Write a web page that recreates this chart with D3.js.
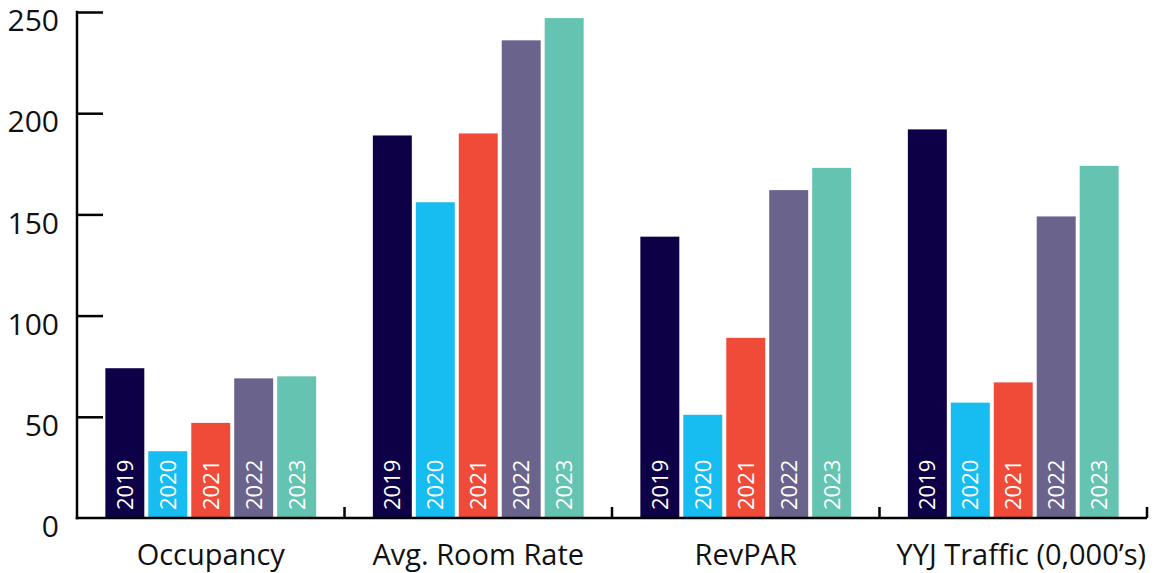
<!DOCTYPE html>
<html>
<head>
<meta charset="utf-8">
<script src="https://cdn.jsdelivr.net/npm/d3@7"></script>
<style>
  body { margin: 0; background: #fff; }
  svg text { font-family: "Open Sans", "Noto Sans", sans-serif; }
</style>
</head>
<body>
<svg class="chart"></svg>
<script>
var categories = ['Occupancy', 'Avg. Room Rate', 'RevPAR', 'YYJ Traffic (0,000\u2019s)'];
var years = ['2019', '2020', '2021', '2022', '2023'];
var colors = ['#0e0047', '#17bdf0', '#f04b38', '#6a638c', '#64c4b1'];

var v2019 = [74, 189, 139, 192];
var v2020 = [33, 156, 51, 57];
var v2021 = [47, 190, 89, 67];
var v2022 = [69, 236, 162, 149];
var v2023 = [70, 247, 173, 174];
var series = [v2019, v2020, v2021, v2022, v2023];

var yTicks = [0, 50, 100, 150, 200, 250];

var width = 1157, height = 573;
var mLeft = 77, mRight = 1147, mTop = 12, mBottom = 518;

var chart = d3.select('.chart')
  .attr('width', width)
  .attr('height', height);

var x0 = d3.scaleBand()
  .domain(categories)
  .range([mLeft, mRight]);

var x1 = d3.scaleBand()
  .domain(years)
  .range([0, x0.bandwidth()])
  .paddingInner(0.093)
  .paddingOuter(0.66);

var y = d3.scaleLinear()
  .domain([0, 250])
  .range([mBottom, mTop]);

var color = d3.scaleOrdinal().domain(years).range(colors);

// flatten into rows
var rows = [];
categories.forEach(function(c, ci) {
  years.forEach(function(yr, yi) {
    rows.push({ cat: c, year: yr, value: series[yi][ci] });
  });
});

var bar = chart.selectAll('g.bar')
  .data(rows)
  .enter()
  .append('g')
  .attr('class', 'bar')
  .attr('transform', function(d) { return 'translate(' + (x0(d.cat) + x1(d.year)) + ',0)'; });

bar.append('rect')
  .attr('y', function(d) { return y(d.value); })
  .attr('width', x1.bandwidth())
  .attr('height', function(d) { return mBottom - y(d.value); })
  .attr('fill', function(d) { return color(d.year); });

bar.append('text')
  .attr('transform', 'translate(' + (x1.bandwidth() / 2) + ',' + (mBottom - 8) + ') rotate(-90)')
  .attr('dy', '0.36em')
  .attr('fill', '#fff')
  .attr('font-size', 22)
  .text(function(d) { return d.year; });

// y axis
var yAxis = d3.axisRight(y)
  .tickValues(yTicks)
  .tickSize(26)
  .tickFormat(d3.format('d'));

var gy = chart.append('g')
  .attr('transform', 'translate(' + mLeft + ',0)')
  .call(yAxis);
gy.select('.domain').remove();
gy.selectAll('.tick line').attr('stroke', '#000').attr('stroke-width', 2.5);
gy.selectAll('.tick').filter(function(d) { return d === 0; }).select('line').remove();
gy.selectAll('.tick text')
  .attr('x', -18)
  .attr('dy', '0.62em')
  .attr('text-anchor', 'end')
  .attr('font-size', 30)
  .attr('fill', '#111');

chart.append('line')
  .attr('x1', mLeft).attr('x2', mLeft)
  .attr('y1', mTop - 1.25).attr('y2', mBottom + 1.25)
  .attr('stroke', '#000').attr('stroke-width', 2.5);

// x axis
var xAxis = d3.axisBottom(x0).tickSize(0);
var gx = chart.append('g')
  .attr('transform', 'translate(0,' + mBottom + ')')
  .call(xAxis);
gx.select('.domain').remove();
gx.selectAll('.tick text')
  .attr('y', 47)
  .attr('dy', 0)
  .attr('font-size', 29)
  .attr('fill', '#111');
// last label sits a little right in the original
gx.selectAll('.tick text').filter(function(d, i) { return i === categories.length - 1; })
  .attr('x', 8);

chart.append('line')
  .attr('x1', mLeft - 1.25).attr('x2', mRight)
  .attr('y1', mBottom).attr('y2', mBottom)
  .attr('stroke', '#000').attr('stroke-width', 2.5);

// band boundary ticks
chart.selectAll('line.sep')
  .data(categories)
  .enter()
  .append('line')
  .attr('class', 'sep')
  .attr('x1', function(d) { return x0(d) + x0.bandwidth(); })
  .attr('x2', function(d) { return x0(d) + x0.bandwidth(); })
  .attr('y1', mBottom - 11)
  .attr('y2', mBottom)
  .attr('stroke', '#000')
  .attr('stroke-width', 2.5);
</script>
</body>
</html>
